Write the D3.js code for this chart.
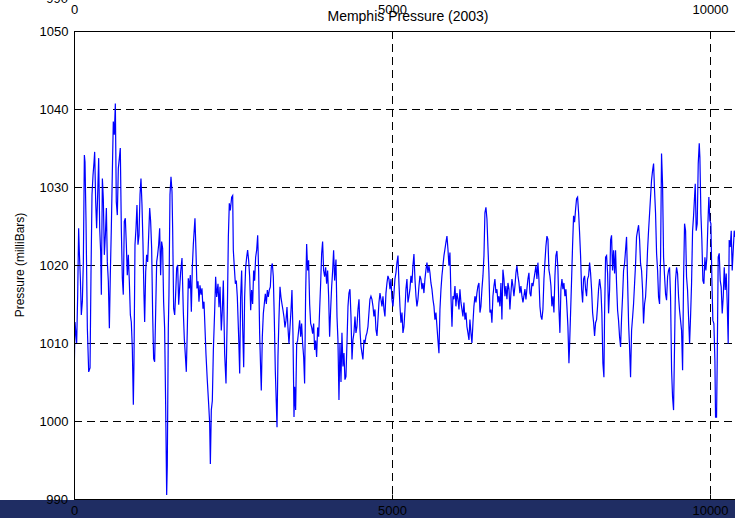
<!DOCTYPE html>
<html>
<head>
<meta charset="utf-8">
<script src="https://cdn.jsdelivr.net/npm/d3@7"></script>
<style>
  body { margin: 0; background: #fff; }
  svg { display: block; }
  text { font-family: "Liberation Sans", Arial, sans-serif; fill: #000; }
</style>
</head>
<body>
<script>
// hour of year vs. pressure in milliBars
var hourTicks = [0, 5000, 10000];
var pressureTicks = [990, 1000, 1010, 1020, 1030, 1040, 1050];
var readings = [
  [0,1004.4],[16,1012.7],[32,1011],[42,1010],[58,1016.2],[73,1024.7],[84,1021.7],[100,1018.3],[115,1013.6],[131,1015.3],
  [147,1020.4],[163,1034.1],[173,1033.2],[189,1025.6],[210,1011.9],[231,1006.3],[252,1006.8],[267,1018.7],[283,1029],[299,1031.5],
  [315,1033.2],[325,1034.5],[341,1028.1],[356,1024.7],[372,1029],[388,1033.7],[404,1024.7],[419,1021.7],[430,1016.2],[446,1031.1],
  [461,1028.5],[477,1021.3],[493,1023.8],[509,1027.3],[524,1020.4],[540,1017.9],[556,1011.9],[571,1018.7],[587,1024.7],[603,1032],
  [618,1038.4],[634,1036.7],[650,1040.7],[665,1028.1],[681,1026.4],[697,1032.4],[713,1033.7],[728,1035],[744,1024.7],[760,1018.3],
  [775,1016.2],[791,1025.6],[807,1026],[823,1022.6],[838,1018.7],[854,1021.3],[870,1017.9],[886,1013.6],[901,1012.7],[917,1009.3],
  [933,1002.1],[943,1007.6],[959,1022.6],[975,1024.7],[990,1027.7],[1006,1022.6],[1022,1023.8],[1038,1029],[1053,1031.1],[1069,1027.7],
  [1085,1022.6],[1100,1016.2],[1111,1012.7],[1127,1019.1],[1142,1021.3],[1158,1020.4],[1174,1023.8],[1190,1027.3],[1205,1025.6],[1221,1022.1],
  [1237,1013.6],[1252,1008],[1268,1007.6],[1284,1014],[1300,1020.4],[1315,1021.3],[1331,1022.6],[1347,1024.7],[1362,1018.7],[1378,1023],
  [1394,1022.1],[1409,1015.3],[1425,1011.9],[1441,1002.1],[1457,990.5],[1467,994.4],[1483,1011.9],[1493,1016.2],[1509,1029],[1525,1031.3],
  [1541,1029.4],[1551,1024.7],[1567,1014.4],[1583,1013.6],[1598,1016.2],[1614,1019.6],[1630,1020],[1646,1014.9],[1661,1017],[1677,1019.1],
  [1698,1020.9],[1719,1014],[1734,1010.6],[1750,1008.5],[1766,1006.3],[1782,1011.9],[1797,1018.3],[1813,1017],[1829,1018.7],[1845,1014],
  [1860,1019.6],[1876,1022.6],[1892,1024.7],[1902,1026],[1918,1021.7],[1934,1017],[1950,1017.9],[1965,1015.3],[1981,1017.4],[1997,1016.2],
  [2012,1017],[2028,1014.4],[2044,1015.3],[2075,1008.6],[2096,1005.2],[2117,1002.2],[2133,999.7],[2144,994.5],[2159,1001.4],[2175,1002.6],
  [2191,1009],[2212,1014.2],[2227,1018.5],[2243,1015.9],[2264,1017.6],[2280,1014.6],[2296,1017.2],[2316,1011.6],[2332,1014.2],[2348,1018],
  [2369,1008.6],[2390,1004.8],[2411,1014.2],[2427,1023.6],[2442,1027.9],[2458,1027],[2479,1028.7],[2495,1028.9],[2505,1021.9],[2521,1019.7],
  [2537,1017.6],[2552,1018],[2568,1015.9],[2589,1010.8],[2605,1006.1],[2620,1015.9],[2636,1019.3],[2652,1012],[2668,1006.9],[2683,1015.9],
  [2699,1019.7],[2715,1021],[2730,1021.9],[2746,1020.6],[2762,1018.5],[2778,1014.2],[2793,1016.8],[2809,1015],[2825,1019.3],[2840,1018],
  [2856,1021],[2872,1021.9],[2888,1023.8],[2903,1019.3],[2919,1011.2],[2935,1006.5],[2945,1003.9],[2961,1010.8],[2977,1013.8],[2992,1015],
  [3008,1016.3],[3024,1015],[3040,1016.8],[3055,1015.9],[3071,1016.8],[3087,1017.2],[3102,1019.7],[3118,1020.2],[3134,1018.5],[3150,1012.9],
  [3165,1006.5],[3181,1002.2],[3192,999.2],[3207,1008.2],[3223,1013.3],[3239,1017.2],[3254,1015.9],[3270,1015],[3286,1014.2],[3302,1013.3],
  [3317,1012],[3333,1012.9],[3349,1014.6],[3364,1012],[3380,1009.9],[3396,1012],[3412,1014.2],[3427,1016.8],[3443,1011.2],[3459,1000.5],
  [3469,1004.4],[3485,1001.4],[3501,1009.9],[3516,1010.3],[3532,1011.6],[3548,1012.9],[3564,1010.8],[3579,1012.5],[3595,1009.9],[3611,1008.2],
  [3626,1004.8],[3642,1016.3],[3658,1022.7],[3674,1019.3],[3689,1020.6],[3705,1015],[3721,1012.5],[3737,1012],[3752,1011.2],[3768,1012.5],
  [3784,1009.1],[3799,1010.3],[3815,1008.2],[3831,1012],[3847,1010.8],[3862,1014.2],[3878,1017.6],[3894,1021.5],[3909,1023],[3925,1019.3],
  [3941,1018.5],[3957,1019.7],[3972,1017.6],[3988,1019.3],[4004,1015.9],[4019,1010.8],[4035,1014.2],[4051,1017.2],[4067,1019.3],[4082,1021.9],
  [4098,1018],[4119,1020.7],[4135,1013.4],[4150,1010.4],[4166,1002.7],[4182,1010],[4198,1005],[4213,1011.3],[4229,1007],[4245,1008.7],
  [4260,1005.3],[4276,1005.7],[4292,1010],[4308,1014.7],[4323,1016.4],[4339,1016.9],[4355,1013.4],[4371,1007.9],[4386,1010.4],[4402,1011.3],
  [4418,1013.4],[4433,1011.3],[4449,1012.1],[4465,1014.3],[4481,1015.6],[4496,1011.7],[4512,1009.6],[4528,1008.7],[4543,1007.9],[4559,1010.4],
  [4575,1010],[4591,1010.9],[4606,1011.3],[4622,1012.1],[4638,1013.9],[4653,1015.6],[4669,1016],[4685,1015.6],[4701,1014.7],[4716,1013.4],
  [4732,1014.3],[4748,1011.7],[4764,1010.9],[4779,1013],[4795,1015.2],[4811,1016.4],[4826,1015.6],[4842,1014.7],[4858,1016],[4874,1014.3],
  [4889,1013.4],[4905,1016.4],[4921,1017.7],[4936,1018.6],[4952,1018.2],[4968,1016.9],[4984,1018.2],[4999,1015.6],[5015,1014.7],[5031,1016.4],
  [5046,1018.2],[5062,1019],[5078,1020.3],[5094,1021.2],[5109,1017.7],[5125,1014.7],[5141,1012.6],[5157,1013.9],[5172,1011.3],[5188,1012.1],
  [5204,1014.3],[5219,1016.9],[5235,1018.2],[5251,1015.2],[5267,1016],[5282,1016.9],[5298,1018.6],[5314,1017.7],[5329,1019.9],[5345,1021.4],
  [5361,1018.2],[5377,1016],[5392,1014.7],[5408,1015.6],[5424,1017.3],[5439,1018.6],[5455,1018.2],[5471,1016.9],[5487,1017.7],[5502,1016.4],
  [5518,1018.2],[5534,1019.4],[5550,1020.3],[5565,1019],[5581,1019.9],[5597,1019],[5612,1017.7],[5628,1016.9],[5644,1015.6],[5660,1014.7],
  [5675,1013],[5691,1013.9],[5707,1012.1],[5722,1010.4],[5738,1008.7],[5754,1014.3],[5770,1016.9],[5785,1018.6],[5801,1019.9],[5817,1021.2],
  [5832,1022],[5848,1022.9],[5864,1023.7],[5880,1022],[5895,1019.9],[5911,1021.6],[5927,1016],[5943,1012.1],[5958,1016],[5974,1015.6],
  [5990,1017.3],[6005,1014.7],[6021,1016.4],[6037,1015.6],[6053,1014.3],[6068,1016.9],[6084,1015.2],[6100,1014.3],[6115,1013.4],[6131,1015.2],
  [6147,1013],[6163,1013.9],[6178,1012.1],[6194,1011.3],[6210,1010.4],[6225,1013],[6241,1011.3],[6257,1010],[6273,1012.6],[6288,1014.7],
  [6304,1016],[6320,1015.2],[6335,1016.4],[6351,1017.3],[6367,1017.7],[6383,1013.9],[6398,1014.7],[6414,1016.9],[6430,1018.6],[6446,1021.2],
  [6461,1026.7],[6477,1027.4],[6493,1025.9],[6508,1022.4],[6524,1019],[6540,1013.9],[6556,1014.3],[6571,1012.6],[6587,1016],[6603,1017.3],
  [6618,1018.2],[6634,1016.4],[6650,1016.9],[6666,1015.2],[6681,1016],[6697,1014.7],[6713,1017.7],[6728,1013],[6744,1019.4],[6760,1018.2],
  [6776,1016],[6791,1017.3],[6807,1015.6],[6823,1017.7],[6839,1016.9],[6854,1014.3],[6870,1016.4],[6886,1018.2],[6901,1017.3],[6917,1016],
  [6933,1017.3],[6949,1019],[6964,1019.9],[6980,1018.6],[6996,1017.7],[7011,1016.4],[7027,1017.3],[7043,1016],[7059,1015.2],[7074,1016],
  [7090,1016.9],[7106,1015.6],[7121,1016.9],[7137,1018.2],[7153,1019],[7169,1016.4],[7184,1016],[7200,1017.7],[7216,1017.3],[7232,1018.2],
  [7247,1019],[7263,1019.9],[7279,1018.2],[7294,1020.3],[7310,1018.2],[7326,1014.7],[7342,1013.4],[7357,1013],[7373,1014.3],[7389,1018.2],
  [7404,1020.3],[7420,1022.4],[7436,1023.7],[7452,1023.3],[7467,1019.4],[7483,1018.6],[7499,1017.3],[7514,1014.7],[7530,1016],[7546,1013.9],
  [7562,1018.6],[7577,1021.2],[7593,1021.8],[7609,1019.4],[7625,1014.3],[7640,1011.3],[7656,1016.9],[7672,1018.2],[7687,1016.9],[7703,1017.7],
  [7719,1016],[7735,1016.9],[7750,1014.7],[7766,1012.1],[7782,1007.4],[7792,1009.6],[7808,1013.9],[7824,1018.2],[7839,1022.4],[7855,1026.3],
  [7871,1025.5],[7887,1027.2],[7902,1028.5],[7918,1028.7],[7934,1026.7],[7949,1024.2],[7965,1021.2],[7981,1016.9],[7997,1015.2],[8012,1018.2],
  [8028,1018.6],[8044,1016.9],[8059,1016],[8075,1018.2],[8091,1018.6],[8107,1020.3],[8122,1019],[8138,1016.9],[8154,1013.9],[8170,1012.6],
  [8185,1010.9],[8201,1012.6],[8217,1013],[8232,1014.7],[8248,1016.9],[8264,1018.2],[8285,1016.8],[8300,1013.8],[8316,1007.4],[8332,1005.6],
  [8342,1013.3],[8358,1021],[8374,1021.2],[8390,1018.9],[8405,1013.8],[8421,1016.8],[8437,1023.2],[8452,1023.8],[8468,1019.3],[8484,1021.9],
  [8500,1018.9],[8515,1021.9],[8531,1017.6],[8547,1014.2],[8562,1012.9],[8578,1010.8],[8594,1009.5],[8610,1013.3],[8625,1015.9],[8641,1019.3],
  [8657,1020.2],[8672,1021.9],[8688,1023.6],[8704,1018],[8720,1012.5],[8735,1009.5],[8751,1005.6],[8767,1011.6],[8783,1013.3],[8798,1015],
  [8814,1017.6],[8830,1020.2],[8845,1023.6],[8861,1024.4],[8877,1025.1],[8893,1023.2],[8908,1020.2],[8924,1019.3],[8940,1016.8],[8955,1012.5],
  [8971,1015],[8987,1015.9],[9003,1018.5],[9018,1021.9],[9034,1024.4],[9050,1026.6],[9065,1028.7],[9081,1030.9],[9097,1032.1],[9113,1033],
  [9128,1029.6],[9144,1026.6],[9160,1021.5],[9176,1019.3],[9191,1015.9],[9207,1015],[9223,1021],[9238,1034.3],[9254,1030.4],[9270,1021],
  [9286,1018.5],[9301,1016.3],[9317,1015.5],[9333,1018.5],[9348,1019.3],[9364,1019.7],[9380,1015.9],[9396,1006.5],[9411,1003.1],[9427,1001.4],
  [9443,1009.9],[9458,1018],[9474,1019.7],[9490,1018.9],[9506,1015.9],[9521,1014.2],[9537,1012.9],[9553,1011.6],[9569,1006.5],[9584,1018],
  [9600,1025.3],[9616,1024.4],[9631,1018.5],[9647,1016.8],[9663,1013.3],[9679,1009.9],[9694,1013.3],[9710,1017.6],[9726,1024.4],[9741,1026.2],
  [9757,1028.7],[9768,1030.4],[9783,1024.4],[9799,1025.3],[9815,1033],[9831,1035.6],[9841,1033.8],[9857,1026.6],[9872,1023.2],[9888,1018],
  [9904,1017.6],[9920,1021],[9935,1019.3],[9951,1021],[9967,1025.3],[9982,1028.7],[9998,1025.7],[10014,1025.3],[10030,1018],[10045,1012.9],
  [10061,1012.5],[10077,1007.8],[10087,1000.5],[10103,1000.5],[10113,1007.4],[10129,1021],[10145,1021.5],[10161,1018],[10176,1017.2],[10192,1013.8],
  [10208,1015.9],[10224,1019.7],[10239,1016.8],[10255,1018.9],[10271,1015],[10286,1009.9],[10302,1023.2],[10318,1022.3],[10334,1024.4],[10349,1019.3],
  [10365,1021.9],[10381,1024.4],[10391,1023.6]
];

var W = 735, H = 518;
var plotLeft = 74, plotRight = 735, plotTop = 31, plotBottom = 499;

var svg = d3.select("body").append("svg")
    .attr("width", W)
    .attr("height", H);

// the figure is cut off on the right, so 0..5000 fixes the scale
var x = d3.scaleLinear().domain([0, 5000]).range([plotLeft, 392]);
var y = d3.scaleLinear().domain([990, 1050]).range([plotBottom, plotTop]);
var fmt = d3.format("d");

svg.append("clipPath")
    .attr("id", "plotclip")
  .append("rect")
    .attr("x", plotLeft).attr("y", plotTop)
    .attr("width", plotRight - plotLeft).attr("height", plotBottom - plotTop);

// dashed grid
svg.append("g")
    .selectAll("line")
    .data(pressureTicks.filter(function(d) { return d > 990 && d < 1050; }))
    .enter().append("line")
      .attr("x1", plotLeft).attr("x2", plotRight)
      .attr("y1", function(d) { return Math.round(y(d)) + 0.5; })
      .attr("y2", function(d) { return Math.round(y(d)) + 0.5; })
      .style("stroke", "#000")
      .style("stroke-dasharray", "8,5");

svg.append("g")
    .selectAll("line")
    .data(hourTicks.filter(function(d) { return d > 0; }))
    .enter().append("line")
      .attr("x1", function(d) { return Math.round(x(d)) + 0.5; })
      .attr("x2", function(d) { return Math.round(x(d)) + 0.5; })
      .attr("y1", plotTop).attr("y2", plotBottom)
      .style("stroke", "#000")
      .style("stroke-dasharray", "8,5");

var valueline = d3.line()
    .x(function(d) { return x(d[0]); })
    .y(function(d) { return y(d[1]); });

svg.append("path")
    .datum(readings)
    .attr("clip-path", "url(#plotclip)")
    .attr("fill", "none")
    .style("stroke", "#0000ff")
    .style("stroke-width", 1.2)
    .attr("d", valueline);

// box edges
svg.append("line")
    .attr("x1", plotLeft + 0.5).attr("x2", plotLeft + 0.5)
    .attr("y1", plotTop).attr("y2", plotBottom + 1)
    .style("stroke", "#000");
svg.append("line")
    .attr("x1", plotLeft).attr("x2", plotRight)
    .attr("y1", plotTop + 0.5).attr("y2", plotTop + 0.5)
    .style("stroke", "#000");
svg.append("line")
    .attr("x1", plotLeft).attr("x2", plotRight)
    .attr("y1", plotBottom + 0.5).attr("y2", plotBottom + 0.5)
    .style("stroke", "#000");

// left axis, ticks point inward
var yAxis = svg.append("g")
    .attr("transform", "translate(" + (plotLeft + 0.5) + ",0)")
    .call(d3.axisLeft(y).tickValues(pressureTicks.filter(function(d) { return d > 990; }))
      .tickFormat(fmt).tickSize(-5).tickPadding(6));
yAxis.select(".domain").remove();
yAxis.selectAll("text").style("font-size", "13px").attr("fill", "#000");

// top axis
var xTop = svg.append("g")
    .attr("transform", "translate(0," + (plotTop + 0.5) + ")")
    .call(d3.axisTop(x).tickValues(hourTicks).tickFormat(fmt).tickSize(-5).tickPadding(18));
xTop.select(".domain").remove();
xTop.selectAll("text").style("font-size", "13px").attr("fill", "#000");

// stray label of the upper axes copy, clipped by the window
svg.append("text")
    .attr("x", 68)
    .attr("y", 3)
    .attr("text-anchor", "end")
    .style("font-size", "13px")
    .text("990");

// navy strip along the bottom
svg.append("rect")
    .attr("x", 0).attr("y", plotBottom + 1)
    .attr("width", W).attr("height", H - plotBottom - 1)
    .style("fill", "#1f2d63");

var xBottom = svg.append("g")
    .attr("transform", "translate(0," + (plotBottom + 0.5) + ")")
    .call(d3.axisBottom(x).tickValues(hourTicks).tickFormat(fmt).tickSize(-5).tickPadding(6));
xBottom.select(".domain").remove();
xBottom.selectAll("text").style("font-size", "13px").attr("fill", "#000");

svg.append("text")
    .attr("x", 68)
    .attr("y", plotBottom + 5)
    .attr("text-anchor", "end")
    .style("font-size", "13px")
    .text("990");

svg.append("text")
    .attr("x", 408)
    .attr("y", 21)
    .attr("text-anchor", "middle")
    .style("font-size", "14px")
    .text("Memphis Pressure (2003)");

svg.append("text")
    .attr("transform", "translate(24,265) rotate(-90)")
    .attr("text-anchor", "middle")
    .style("font-size", "12px")
    .text("Pressure (milliBars)");
</script>
</body>
</html>
